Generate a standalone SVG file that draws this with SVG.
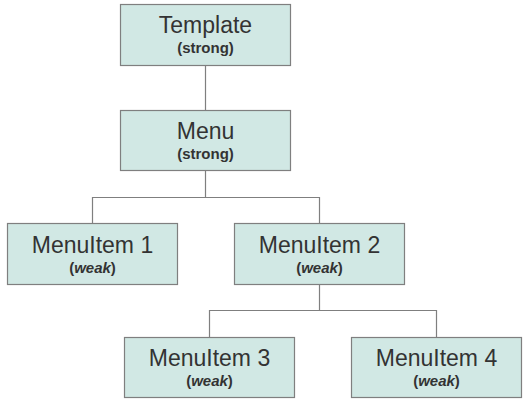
<svg xmlns="http://www.w3.org/2000/svg" width="531" height="406" viewBox="0 0 531 406">
<style>
.box{fill:#d1e8e4;stroke:#7f7f7f;stroke-width:1.2}
.t{font-family:"Liberation Sans",Arial,sans-serif;font-size:23px;fill:#333;text-anchor:middle}
.s{font-family:"Liberation Sans",Arial,sans-serif;font-size:15px;font-weight:bold;fill:#333;text-anchor:middle}
.c{fill:none;stroke:#7f7f7f;stroke-width:1.2}
</style>
<rect width="531" height="406" fill="#fff"/>
<g id="connectors">
<path class="c" d="M205.5 65.5V110.5"/>
<path class="c" d="M205.5 170.5V197.5H92.5V223.5M205.5 197.5H319.5V223.5"/>
<path class="c" d="M319.5 284.5V310.5H209.5V337.5M319.5 310.5H436.5V337.5"/>
</g>
<g id="template">
<rect class="box" x="120.5" y="4.5" width="170" height="61"/>
<text class="t" x="205.5" y="33">Template</text>
<text class="s" x="205.5" y="53">(strong)</text>
</g>
<g id="menu">
<rect class="box" x="120.5" y="110.5" width="170" height="60"/>
<text class="t" x="205.5" y="139">Menu</text>
<text class="s" x="205.5" y="159">(strong)</text>
</g>
<g id="menuitem1">
<rect class="box" x="7.5" y="223.5" width="170" height="61"/>
<text class="t" x="92.5" y="253">MenuItem 1</text>
<text class="s" x="92.5" y="273">(<tspan font-style="italic">weak</tspan>)</text>
</g>
<g id="menuitem2">
<rect class="box" x="234.5" y="223.5" width="170" height="61"/>
<text class="t" x="319.5" y="253">MenuItem 2</text>
<text class="s" x="319.5" y="273">(<tspan font-style="italic">weak</tspan>)</text>
</g>
<g id="menuitem3">
<rect class="box" x="124.5" y="337.5" width="170" height="60"/>
<text class="t" x="209.5" y="366">MenuItem 3</text>
<text class="s" x="209.5" y="386">(<tspan font-style="italic">weak</tspan>)</text>
</g>
<g id="menuitem4">
<rect class="box" x="351.5" y="337.5" width="170" height="60"/>
<text class="t" x="436.5" y="366">MenuItem 4</text>
<text class="s" x="436.5" y="386">(<tspan font-style="italic">weak</tspan>)</text>
</g>
</svg>
